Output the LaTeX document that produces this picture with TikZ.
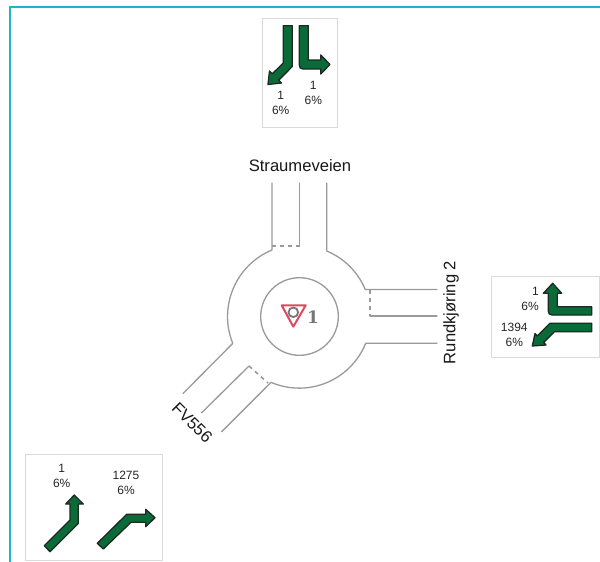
\documentclass[tikz,border=0pt]{standalone}
\usepackage{fontspec}
\setmainfont{Liberation Sans}
\newfontfamily\signfont{DejaVu Serif}
\definecolor{roadgray}{HTML}{9A9A9A}
\definecolor{frameteal}{HTML}{1FB5C8}
\definecolor{boxgray}{HTML}{DADADA}
\definecolor{flowgreen}{HTML}{0A6B38}
\definecolor{flowedge}{HTML}{1C2A22}
\definecolor{yieldred}{HTML}{DB4A60}
\definecolor{signgray}{HTML}{777777}
\tikzset{
  road/.style={draw=roadgray,line width=1.3pt,line cap=round,line join=round},
  stopline/.style={road,line width=1.6pt,dash pattern=on 4pt off 4pt,line cap=butt},
  panel/.style={draw=boxgray,line width=1pt,fill=white},
  flow/.style={draw=flowedge,fill=flowgreen,line width=1.3pt,line join=round},
  count/.style={font=\fontsize{12}{15}\selectfont,align=center,text=black!85,inner sep=0pt},
  roadname/.style={font=\fontsize{16.6}{18}\selectfont,text=black!90,inner sep=0pt},
}
\begin{document}
\begin{tikzpicture}[x=1pt,y=-1pt]
\useasboundingbox (0,0) rectangle (600,562);
\fill[white] (0,0) rectangle (600,562);
\draw[frameteal,line width=2pt] (600,7) -- (10,7) -- (10,562);

% panels
\draw[panel] (262,18) rectangle (337,127);
\draw[panel] (491,276) rectangle (599,357);
\draw[panel] (25.7,454) rectangle (162,560);

% north panel
\draw[flow] (283.3,25.7) -- (292.3,25.7) -- (292.3,66.5) -- (278.7,80.2) -- (281.5,83) -- (268,84.5) -- (269.5,71) -- (272.3,73.8) -- (283.3,63) -- cycle;
\draw[flow] (299.3,25.7) -- (308.3,25.7) -- (308.3,60) -- (320.7,60) -- (320.7,55) -- (330,64.5) -- (320.7,74) -- (320.7,69) -- (303,69) .. controls (300.5,69) and (299.3,67.5) .. (299.3,65) -- cycle;
\node[count] (nl) at (280.7,102.5) {1\\6\%};
\node[count] (nr) at (313.3,92.5) {1\\6\%};

% east panel
\draw[flow] (591.7,306.7) -- (557.3,306.7) -- (557.3,293.3) -- (561.7,293.3) -- (552.7,283.3) -- (543.3,293.3) -- (548.3,293.3) -- (548.3,311) .. controls (548.3,313.5) and (549.5,315) .. (552,315) -- (591.7,315) -- cycle;
\draw[flow] (591.7,323.3) -- (550,323.3) -- (537.3,336) -- (535,333.5) -- (532.3,346) -- (546,345) -- (543.7,342.4) -- (554.5,331.7) -- (591.7,331.7) -- cycle;
\node[count,align=right] (et) at (530,298.8) {1\\6\%};
\node[count] (eb) at (514.3,334.8) {1394\\6\%};

% south-west panel
\draw[flow] (44.3,545.7) -- (70,520) -- (70,504) -- (65.7,504) -- (74.3,495) -- (83.3,504) -- (78.3,504) -- (78.3,523.5) -- (50,551.7) -- cycle;
\draw[flow] (97.3,543.3) -- (126.7,514.3) -- (145.7,514.3) -- (145.7,509.3) -- (155,517.7) -- (145.7,526.7) -- (145.7,522.3) -- (131,522.3) -- (103.3,549) -- cycle;
\node[count] (sl) at (61.7,475.7) {1\\6\%};
\node[count] (sr) at (126,483.3) {1275\\6\%};

% roundabout
\coordinate (c) at (299.5,316.5);
\draw[road] (c) circle[radius=38.8pt];
\draw[road] (272,183) -- (272,250) arc[start angle=112.5,end angle=201.9,radius=72pt] -- (183,393.5);
\draw[road] (326.7,183) -- (326.7,251) arc[start angle=67.5,end angle=22.5,radius=71.3pt] -- (437,289.5);
\draw[road] (437,343.3) -- (365.7,343.3) arc[start angle=-22,end angle=-113.2,radius=71.7pt] -- (221.7,431.7);
\draw[road] (299.5,183) -- (299.5,246);
\draw[road] (437,316) -- (370,316);
\draw[road] (201.7,412.7) -- (249,366);
\draw[stopline] (272,246) -- (299.5,246);
\draw[stopline] (370,289.5) -- (370,316);
\draw[stopline] (249,366) -- (268,383);

% yield sign
\draw[yieldred,line width=2pt,line join=round,fill=white] (281.7,305.3) -- (305.7,305.3) -- (293.3,326.7) -- cycle;
\draw[signgray,line width=1.8pt] (293.3,312.3) circle[radius=4.8pt];
\node[text=signgray,inner sep=0pt,font=\signfont\bfseries\fontsize{17}{17}\selectfont] (signno) at (313,317.5) {1};

% road names
\node[roadname] (north) at (300,166) {Straumeveien};
\node[roadname,rotate=90] (east) at (451,312.5) {Rundkjøring 2};
\node[roadname,rotate=-45] (sw) at (192.3,422.7) {FV556};
\end{tikzpicture}
\end{document}
